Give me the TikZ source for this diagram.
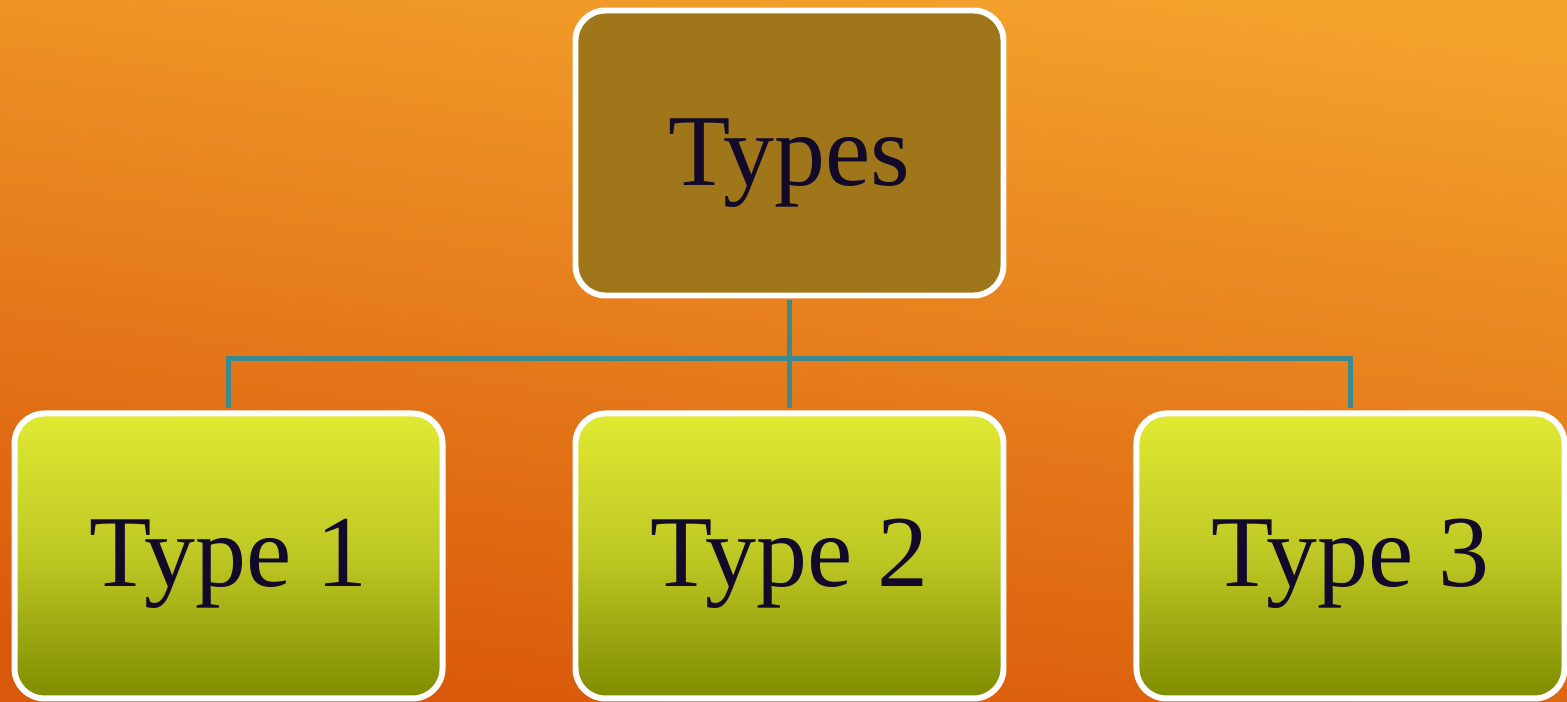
\documentclass[tikz,border=0pt]{standalone}
\usepackage{fontspec}
\setmainfont{Liberation Serif}
\usetikzlibrary{positioning}
\definecolor{bgtop}{RGB}{243,162,44}
\definecolor{bgbottom}{RGB}{217,88,11}
\definecolor{headfill}{RGB}{160,118,26}
\definecolor{leaftop}{RGB}{224,233,50}
\definecolor{leafmid}{RGB}{190,200,36}
\definecolor{leafbottom}{RGB}{126,140,0}
\definecolor{linkcolor}{RGB}{58,138,143}
\definecolor{inkcolor}{RGB}{19,10,42}

\begin{document}
\begin{tikzpicture}
[headnode/.style={inner sep=0pt,minimum height=2.85cm,minimum
width=4.28cm,rectangle,rounded corners=0.3cm,draw=white,line width=1.7pt,
fill=headfill,text=inkcolor,font=\fontsize{29}{32}\selectfont,
text height=25pt,text depth=6.3pt},
leafnode/.style={headnode,fill=none,top color=leaftop,bottom color=leafbottom,
middle color=leafmid,text height=23.6pt},
link/.style={draw=linkcolor,line width=1.6pt,shorten <=0.3pt,shorten >=0.85pt}
]
\useasboundingbox (0,0) rectangle (15.67,7.01);
\shade [top color=bgtop,bottom color=bgbottom,shading angle=-8]
(0,0) rectangle (15.67,7.01);
\node [headnode] (Head) at (7.895,5.48) {Types};
\node [leafnode,below=1.12cm of Head] (T2) {Type 2};
\node [leafnode,left=1.27cm of T2] (T1) {Type 1};
\node [leafnode,right=1.27cm of T2] (T3) {Type 3};
\draw [link] (Head.south) -- (T2.north);
\draw [link] (Head.south) -- ++(0,-0.6) -| (T1.north);
\draw [link] (Head.south) -- ++(0,-0.6) -| (T3.north);
\end{tikzpicture}
\end{document}
